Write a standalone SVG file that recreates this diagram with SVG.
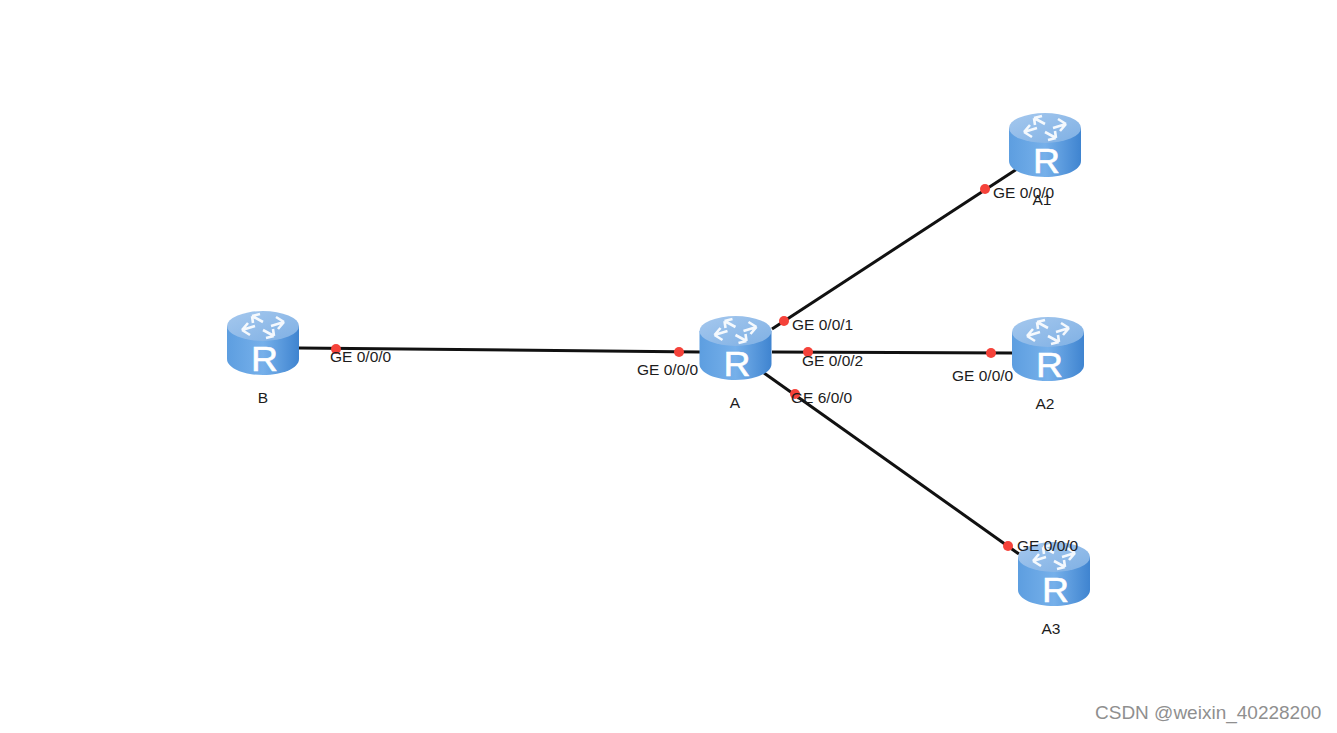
<svg xmlns="http://www.w3.org/2000/svg" width="1337" height="733" viewBox="0 0 1337 733">
<style>
.lbl{font-family:"Liberation Sans",Arial,sans-serif;font-size:15.500px;fill:#1c1c1c}
.wm{font-family:"Liberation Sans",Arial,sans-serif;font-size:19px;fill:#8f8f8f}
.link{stroke:#111;stroke-width:3;fill:none}
.dot{fill:#f5423a}
.ar{fill:none;stroke:#fff;stroke-width:2.600;opacity:.9}
.r{font-family:"Liberation Sans",Arial,sans-serif;font-size:35px;fill:#fff;stroke:#fff;stroke-width:.6}
</style>
<defs>
<linearGradient id="side" x1="0" x2="1" y1="0" y2="0">
<stop offset="0" stop-color="#5d9ee0"/><stop offset="0.5" stop-color="#76b0ea"/><stop offset="1" stop-color="#3f84d0"/>
</linearGradient>
<linearGradient id="top" x1="0" x2="1" y1="0" y2="1">
<stop offset="0" stop-color="#a5c8ee"/><stop offset="1" stop-color="#7fb0e4"/>
</linearGradient>
<g id="router">
<path d="M-36 15V48C-36 57-20 64 0 64S36 57 36 48V15Z" fill="url(#side)"/>
<ellipse cx="0" cy="15" rx="36" ry="15" fill="url(#top)"/>
<path class="ar" d="M-21 19L-8 15M-21 19L-15 12M-21 19L-13 24"/>
<path class="ar" d="M-11 5L0 11M-11 5L-3 3M-11 5L-10 12"/>
<path class="ar" d="M21 11L8 15M21 11L15 18M21 11L13 6"/>
<path class="ar" d="M11 25L0 19M11 25L3 27M11 25L10 18"/>
<text class="r" x="1.500" y="60" text-anchor="middle" textLength="27" lengthAdjust="spacingAndGlyphs">R</text>
</g>
</defs>
<rect width="1337" height="733" fill="#fff"/>
<g id="connectors">
<path class="link" d="M299 348L700 352"/>
<path class="link" d="M772 329L1017 169"/>
<path class="link" d="M772 352L1012 353"/>
<path class="link" d="M764 373L1019 554"/>
</g>
<g id="node-B"><use href="#router" x="263" y="311"/><text class="lbl" x="263" y="403" text-anchor="middle">B</text></g>
<g id="node-A"><use href="#router" x="735.500" y="316"/><text class="lbl" x="735" y="408" text-anchor="middle">A</text></g>
<g id="node-A1"><use href="#router" x="1045" y="113"/><text class="lbl" x="1042" y="205" text-anchor="middle">A1</text></g>
<g id="node-A2"><use href="#router" x="1048" y="317"/><text class="lbl" x="1045" y="409" text-anchor="middle">A2</text></g>
<g id="node-A3"><use href="#router" x="1054" y="542"/><text class="lbl" x="1051" y="634" text-anchor="middle">A3</text></g>
<g id="ports">
<circle class="dot" cx="336" cy="349" r="5"/><text class="lbl" x="330" y="362">GE 0/0/0</text>
<circle class="dot" cx="679" cy="352" r="5"/><text class="lbl" x="637" y="375">GE 0/0/0</text>
<circle class="dot" cx="784" cy="321" r="5"/><text class="lbl" x="792" y="330">GE 0/0/1</text>
<circle class="dot" cx="808" cy="352" r="5"/><text class="lbl" x="802" y="366">GE 0/0/2</text>
<circle class="dot" cx="795" cy="394" r="5"/><text class="lbl" x="791" y="403">GE 6/0/0</text>
<circle class="dot" cx="985" cy="189" r="5"/><text class="lbl" x="993" y="198">GE 0/0/0</text>
<circle class="dot" cx="991" cy="353" r="5"/><text class="lbl" x="952" y="381">GE 0/0/0</text>
<circle class="dot" cx="1008" cy="546" r="5"/><text class="lbl" x="1017" y="551">GE 0/0/0</text>
</g>
<text class="wm" x="1095" y="719">CSDN @weixin_40228200</text>
</svg>
